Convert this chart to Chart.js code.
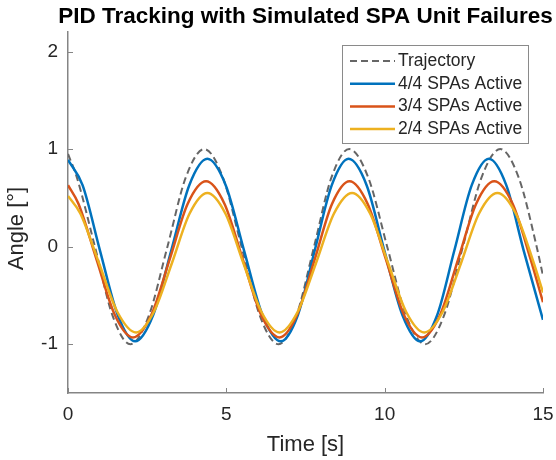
<!DOCTYPE html>
<html>
<head>
<meta charset="utf-8">
<title>PID Tracking with Simulated SPA Unit Failures</title>
<script src="https://cdn.jsdelivr.net/npm/chart.js@4.4.0/dist/chart.umd.min.js"></script>
<style>
  html, body { margin: 0; padding: 0; background: #fff; }
</style>
</head>
<body>
<canvas id="canvas1" width="556" height="460"></canvas>
<script>
'use strict';

// values (time in s, angle in deg)
var trajTime  = [0, 0.28, 0.85, 1.41, 1.97, 2.55, 3.14, 3.72, 4.3, 4.89, 5.48, 6.06, 6.65, 7.21, 7.77, 8.32, 8.88, 9.48, 10.08, 10.68, 11.28, 11.87, 12.47, 13.06, 13.65, 14.23, 14.8, 15];
var trajAngle = [0.95, 0.71, 0, -0.71, -1, -0.71, 0, 0.71, 1, 0.71, 0, -0.71, -1, -0.71, 0, 0.71, 1, 0.71, 0, -0.71, -1, -0.71, 0, 0.71, 1, 0.71, 0, -0.3];

var fourTime  = [0, 0.46, 1.01, 1.57, 2.12, 2.69, 3.26, 3.83, 4.4, 4.98, 5.56, 6.14, 6.72, 7.26, 7.79, 8.33, 8.86, 9.43, 9.99, 10.56, 11.12, 11.66, 12.2, 12.75, 13.29, 13.84, 14.39, 15];
var fourAngle = [0.89, 0.63, -0.04, -0.70, -0.97, -0.70, -0.04, 0.63, 0.90, 0.63, -0.04, -0.70, -0.97, -0.70, -0.04, 0.63, 0.90, 0.63, -0.04, -0.70, -0.97, -0.70, -0.04, 0.63, 0.90, 0.63, -0.04, -0.75];

var threeTime  = [0, 0.33, 0.9, 1.48, 2.05, 2.63, 3.21, 3.78, 4.36, 4.94, 5.52, 6.1, 6.68, 7.23, 7.79, 8.34, 8.89, 9.46, 10.04, 10.61, 11.18, 11.75, 12.32, 12.89, 13.46, 14.04, 14.61, 15];
var threeAngle = [0.63, 0.44, -0.13, -0.70, -0.93, -0.70, -0.13, 0.44, 0.67, 0.44, -0.13, -0.70, -0.93, -0.70, -0.13, 0.44, 0.67, 0.44, -0.13, -0.70, -0.93, -0.70, -0.13, 0.44, 0.67, 0.44, -0.13, -0.57];

var twoTime  = [0, 0.39, 0.98, 1.56, 2.15, 2.71, 3.28, 3.84, 4.4, 4.97, 5.54, 6.11, 6.68, 7.25, 7.83, 8.4, 8.97, 9.54, 10.11, 10.68, 11.25, 11.83, 12.41, 12.98, 13.56, 14.14, 14.71, 15];
var twoAngle = [0.52, 0.34, -0.17, -0.67, -0.88, -0.67, -0.17, 0.34, 0.55, 0.34, -0.17, -0.67, -0.88, -0.67, -0.17, 0.34, 0.55, 0.34, -0.17, -0.67, -0.88, -0.67, -0.17, 0.34, 0.55, 0.34, -0.17, -0.47];

var seriesLabels = ['Trajectory', '4/4 SPAs Active', '3/4 SPAs Active', '2/4 SPAs Active'];
var xTicks = [0, 5, 10, 15];
var yTicks = [-1, 0, 1, 2];

var fontFamily = '"Liberation Sans", Arial, Helvetica, sans-serif';
var axisColor = '#858585';
var textColor = '#262626';

function toPoints(times, values) {
    return times.map(function(t, i) { return { x: t, y: values[i] }; });
}

// small ticks pointing into the plot, like matlab
var innerTicks = {
    id: 'innerTicks',
    afterDatasetsDraw: function(chart) {
        var ctx = chart.ctx, a = chart.chartArea;
        var xs = chart.scales.x, ys = chart.scales.y;
        ctx.save();
        ctx.strokeStyle = axisColor;
        ctx.lineWidth = 1;
        ctx.beginPath();
        xTicks.forEach(function(v) {
            var p = Math.round(xs.getPixelForValue(v)) + 0.5;
            ctx.moveTo(p, a.bottom);
            ctx.lineTo(p, a.bottom - 5);
        });
        yTicks.forEach(function(v) {
            var p = Math.round(ys.getPixelForValue(v)) + 0.5;
            ctx.moveTo(a.left, p);
            ctx.lineTo(a.left + 5, p);
        });
        ctx.stroke();
        ctx.restore();
    }
};

// title over the axes and the y label (matlab puts it a bit below the middle)
var figureText = {
    id: 'figureText',
    afterDraw: function(chart) {
        var ctx = chart.ctx, a = chart.chartArea;
        ctx.save();
        ctx.fillStyle = '#000';
        ctx.textAlign = 'center';
        ctx.textBaseline = 'middle';
        ctx.font = 'bold 22.5px ' + fontFamily;
        ctx.fillText('PID Tracking with Simulated SPA Unit Failures', (a.left + a.right) / 2, 17);

        ctx.fillStyle = textColor;
        ctx.font = '22px ' + fontFamily;
        ctx.translate(17, (a.top + a.bottom) / 2 + 16);
        ctx.rotate(-Math.PI / 2);
        ctx.fillText('Angle [°]', 0, 0);
        ctx.restore();
    }
};

// boxed legend in the upper right corner
var boxLegend = {
    id: 'boxLegend',
    afterDraw: function(chart) {
        var ctx = chart.ctx, a = chart.chartArea;
        var w = 186, h = 98;
        var left = Math.round(a.right - 15 - w), top = Math.round(a.top + 13);
        ctx.save();
        ctx.fillStyle = '#fff';
        ctx.fillRect(left, top, w, h);
        ctx.strokeStyle = '#8a8a8a';
        ctx.lineWidth = 1;
        ctx.strokeRect(left + 0.5, top + 0.5, w, h);
        ctx.font = '17.5px ' + fontFamily;
        ctx.textBaseline = 'middle';
        ctx.textAlign = 'left';
        chart.data.datasets.forEach(function(ds, i) {
            var y = top + 16 + i * 22.7;
            ctx.strokeStyle = ds.borderColor;
            ctx.lineWidth = ds.borderWidth;
            ctx.setLineDash(ds.borderDash || []);
            ctx.beginPath();
            ctx.moveTo(left + 8, y);
            ctx.lineTo(left + 53, y);
            ctx.stroke();
            ctx.setLineDash([]);
            ctx.fillStyle = textColor;
            ctx.fillText(ds.label, left + 56, y);
        });
        ctx.restore();
    }
};

var canvas1 = document.getElementById('canvas1').getContext('2d');

var myChart = new Chart(canvas1, {
    type: 'line',
    data: {
        datasets: [
            { label: seriesLabels[0], data: toPoints(trajTime, trajAngle), borderColor: '#666666', borderWidth: 2, borderDash: [7, 4], order: 4 },
            { label: seriesLabels[1], data: toPoints(fourTime, fourAngle), borderColor: '#0072BD', borderWidth: 2.5, order: 3 },
            { label: seriesLabels[2], data: toPoints(threeTime, threeAngle), borderColor: '#D95319', borderWidth: 2.5, order: 2 },
            { label: seriesLabels[3], data: toPoints(twoTime, twoAngle), borderColor: '#EDB120', borderWidth: 2.5, order: 1 }
        ]
    },
    options: {
        responsive: false,
        animation: false,
        events: [],
        elements: {
            point: { radius: 0 },
            line: { cubicInterpolationMode: 'monotone', fill: false }
        },
        layout: { padding: { left: 0, right: 13, top: 32, bottom: 0 } },
        plugins: {
            legend: { display: false },
            tooltip: { enabled: false },
            title: { display: false }
        },
        scales: {
            x: {
                type: 'linear',
                min: 0,
                max: 15,
                afterBuildTicks: function(s) { s.ticks = xTicks.map(function(v) { return { value: v }; }); },
                afterFit: function(s) { s.height = 67; s.paddingLeft = 0; s.paddingRight = 0; },
                grid: { drawOnChartArea: false, drawTicks: false },
                border: { color: axisColor, width: 1.5 },
                ticks: { color: textColor, font: { family: fontFamily, size: 19 }, padding: 10, maxRotation: 0 },
                title: { display: true, text: 'Time [s]', color: textColor, font: { family: fontFamily, size: 22 }, padding: { top: 0, bottom: 2 } }
            },
            y: {
                type: 'linear',
                min: -1.5,
                max: 2.2,
                afterBuildTicks: function(s) { s.ticks = yTicks.map(function(v) { return { value: v }; }); },
                afterFit: function(s) { s.width = 68; s.paddingTop = 0; s.paddingBottom = 0; },
                grid: { drawOnChartArea: false, drawTicks: false },
                border: { color: axisColor, width: 1.5 },
                ticks: { color: textColor, font: { family: fontFamily, size: 19 }, padding: 10 }
            }
        }
    },
    plugins: [innerTicks, figureText, boxLegend]
});
</script>
</body>
</html>
